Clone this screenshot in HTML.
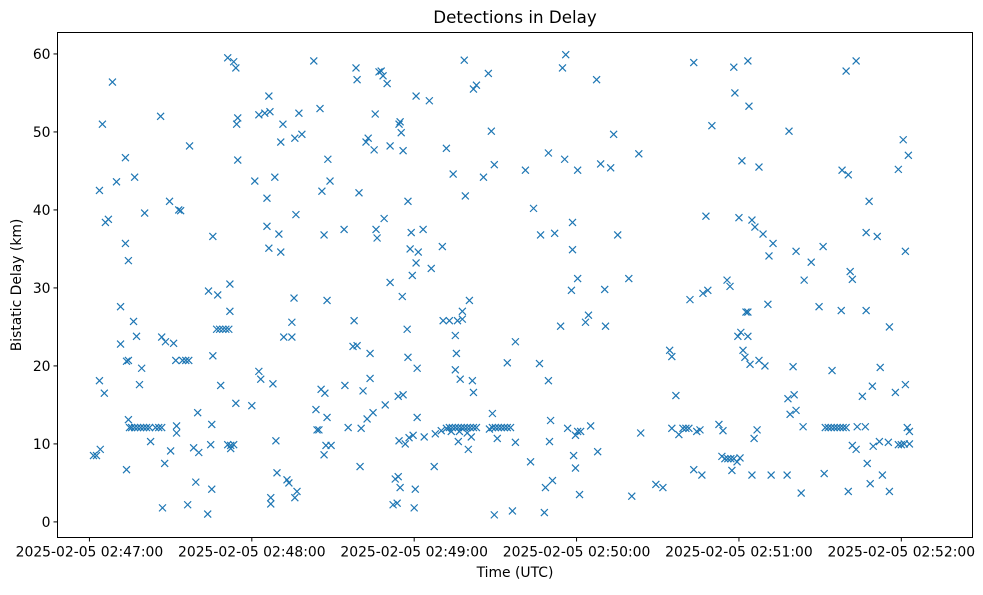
<!DOCTYPE html>
<html><head><meta charset="utf-8"><style>
body{margin:0;background:#fff;font-family:"Liberation Sans","DejaVu Sans",sans-serif;}
svg text{font-family:"DejaVu Sans","Liberation Sans",sans-serif;}
</style></head><body>
<svg id="chart" width="983" height="590" xmlns="http://www.w3.org/2000/svg">
<rect width="983" height="590" fill="#fff"/>
<text x="515" y="23" text-anchor="middle" font-size="16.7">Detections in Delay</text>
<g id="marks"></g>
<g id="xaxis"></g>
<g id="yaxis"></g>
<rect x="57.5" y="32.5" width="915" height="505" fill="none" stroke="#000" stroke-width="1"/>
<text x="515" y="577" text-anchor="middle" font-size="13.9">Time (UTC)</text>
<text transform="translate(21,285) rotate(-90)" text-anchor="middle" font-size="13.9">Bistatic Delay (km)</text>
</svg>
<script>
const xTickSeconds=[0,60,120,180,240,300];
const xTickLabels=["2025-02-05 02:47:00","2025-02-05 02:48:00","2025-02-05 02:49:00","2025-02-05 02:50:00","2025-02-05 02:51:00","2025-02-05 02:52:00"];
const yTicks=[0,10,20,30,40,50,60];
const times=[1.5,2.6,3.7,4,3.7,4.8,5.5,5.9,7,8.5,10,11.5,11.5,13.3,13.3,14.4,13.7,14.4,13.7,14.4,
14.8,15.6,16.7,17.8,18.9,20,21.1,22.2,16.7,16.3,17.4,18.5,19.3,20.4,22.6,24.4,25.6,26.7,26.7,26.3,27,27.8,28.1,29.6,30,31.1,31.9,32.2,32.2,33,33.7,34.4,35.6,36.7,36.3,37,38.5,40,40.4,39.3,43.7,44,44.8,45.2,45.2,45.6,45.6,47.4,47,48.1,49.3,50.4,51.5,48.5,51.1,51.9,51.1,52.2,53.3,52.2,51.9,53.3,54.1,54.4,54.8,54.8,54.1,
60,61.1,62.6,62.6,63.3,64.8,65.6,65.6,66.3,67,67,66.3,66.7,67.8,68.5,68.9,69.3,70,70.7,70.7,71.5,71.8,73,73.7,74.8,74.8,75.6,75.9,76.7,76.3,75.9,77.4,78.5,
82.9,83.7,84.1,84.8,85.2,85.6,85.9,86.7,87,87.8,86.7,87.4,87.8,88.1,88.9,89.3,94.4,94.1,95.6,97.4,97.8,98.5,98.9,99.6,98.9,100,100.4,101.1,102.2,103,103.7,102.6,103.7,104.8,105.2,105.6,105.9,106.3,107,107.8,108.5,108.9,109.3,110,111.1,111.1,112.2,113,113.7,114.1,114.4,114.8,115.2,114.4,114.1,114.8,115.6,115.9,115.9,116.7,117.4,117.7,117.7,118.1,118.5,118.9,119.3,119.6,120,120.4,120.7,120.7,121.1,121.1,121.5,123.3,123.7,125.6,126.3,127.8,127.4,
130,130.4,130.7,131.9,131.9,133,134.1,135.2,136.3,137.4,138.5,139.6,140.7,141.9,143,133.7,136.7,133,134.4,135.2,135.6,135.2,136,136.3,137,137.8,137.8,138.5,138.9,140,139.6,140.4,141.5,141.9,141.1,141.9,143,145.6,147.4,148.5,148.9,149.6,147.8,148.9,150,151.1,152.2,153.3,154.4,155.6,149.6,150.7,154.4,156.3,157.4,157.4,161.1,163,164.1,166.3,166.7,168.1,168.5,169.6,169.6,170,170.4,171.1,171.9,174.1,174.8,175.6,176,176.7,178.1,178.5,178.9,178.5,179.6,179.6,180.4,180.4,180.4,181.5,181.1,183.3,184.4,185.2,187.4,187.8,188.9,190.4,190.7,192.6,193.7,195.2,199.3,200.4,203.7,203,209.3,211.9,
214.4,215.2,216.7,215.2,217.8,219.3,220.4,221.5,223.3,223.3,221.9,224.4,225.6,226.3,226.7,227.8,228.5,230,232.6,234.1,233.7,234.8,235.9,237,238.1,235.6,236.7,237.4,238.1,238.5,239.3,239.6,240,240.4,240.7,241.1,241.5,242.2,242.6,243.3,243.3,243.7,243.3,244.1,244.8,245.6,244.8,245.9,246.7,247.4,247.4,248.9,249.6,251.1,250.7,251.9,252.6,
257.8,258.1,258.5,258.9,260,260.4,261.1,261.1,263,263.7,264.1,266.7,269.6,271.1,271.5,271.9,273,274.1,275.2,276.3,277.4,278.5,279.6,274.4,277.8,278.1,279.6,280.4,280.4,281.1,281.9,281.9,283.3,283.3,283.7,285.6,286.7,287,287,287.4,288.1,288.5,289.3,289.6,291.1,291.9,292.2,293,295.6,295.6,295.2,297.8,298.9,298.9,300,300.7,301.1,301.5,301.5,302.2,302.6,303,303];
const delays=[8.5,8.5,18.1,9.3,42.5,51,16.5,38.4,38.8,56.4,43.6,27.6,22.8,46.7,35.7,33.5,20.6,20.7,6.7,13.1,
12.1,12.1,12.1,12.1,12.1,12.1,12.1,12.1,44.2,25.7,23.8,17.6,19.7,39.6,10.3,12.1,12.1,12.1,23.7,52,1.8,7.5,23.1,41.1,9.1,22.9,20.7,12.3,11.4,40,39.9,20.7,20.7,20.7,2.2,48.2,9.5,14,8.9,5.1,1,29.6,9.9,4.2,12.5,21.3,36.6,29.1,24.7,24.7,24.7,24.7,24.7,17.5,59.5,30.5,9.9,9.8,9.9,9.4,27,59,58.2,51,51.8,46.4,15.2,
14.9,43.7,52.2,19.3,18.3,52.4,41.5,37.9,35.1,2.3,3.1,54.6,52.6,17.7,44.2,10.4,6.3,36.9,34.6,48.7,51,23.7,5.4,5,23.7,25.6,28.7,3.1,3.9,39.4,49.2,52.4,49.7,
59.1,14.4,11.8,11.8,53,17,42.4,36.8,16.5,13.4,8.6,9.8,28.4,46.5,43.7,9.8,17.5,37.5,12.1,22.5,25.8,58.2,56.7,42.2,22.6,7.1,12,16.8,48.7,49.2,21.6,13.2,18.4,14,47.7,52.3,37.5,36.4,57.7,57.8,57.2,38.9,15,56.2,30.7,48.2,2.2,5.5,2.4,16.1,51,51.3,49.9,10.4,5.8,4.4,28.9,47.6,16.3,10,24.7,21.1,41.1,10.8,35,37.1,31.6,11.1,1.8,4.2,33.2,54.6,13.4,19.7,34.6,37.5,10.9,54,32.5,11.3,7.1,
11.7,35.3,25.8,47.9,12,12.1,12.1,12.1,12.1,12.1,12.1,12.1,12.1,12.1,12.1,11.6,11.6,25.8,44.6,23.9,21.6,19.5,25.8,10.3,18.3,26,27,59.2,41.8,9.3,11.4,28.4,18.1,16.6,10.9,55.5,56,44.2,57.5,50.1,13.9,45.8,11.9,12.1,12.1,12.1,12.1,12.1,12.1,12.1,0.9,10.7,20.4,1.4,10.2,23.1,45.1,7.7,40.2,20.3,36.8,1.2,4.4,18.1,47.3,10.3,13,5.3,37,25.1,58.2,46.5,59.9,12,29.7,34.9,8.5,38.4,11.1,6.9,45.1,31.2,11.6,11.6,3.5,25.6,26.5,12.3,56.7,9,45.9,29.8,25.1,45.4,49.7,36.8,31.2,3.3,11.4,47.2,4.8,4.4,
22,21.2,16.2,12,11.2,12,12,12,6.7,58.9,28.5,11.6,11.8,6,29.3,39.2,29.7,50.8,12.5,11.7,8.4,8.1,8.1,8.1,8.1,31,30.2,6.6,58.3,55,7.7,23.8,39,8.2,24.3,46.3,22,21.1,26.9,26.9,59.1,53.3,23.8,20.2,38.7,10.7,6,37.8,11.8,45.5,20.7,36.9,20,34.1,27.9,6,35.7,
6,15.8,50.1,13.8,19.9,16.3,14.3,34.7,3.7,12.2,31,33.3,27.6,35.3,6.2,12.1,12.1,12.1,12.1,12.1,12.1,12.1,12.1,19.4,27.1,45.1,57.8,44.5,3.9,32.1,31.1,9.8,59.1,9.3,12.2,16.1,12.2,37.1,27.1,7.5,41.1,4.9,17.4,9.7,36.6,10.3,19.8,6,3.9,25,10.2,16.6,45.2,9.9,9.9,49,10,34.7,17.6,12.1,47,11.6,10];
const NS="http://www.w3.org/2000/svg";
const X0=57.5,X1=972.5,Y0=32.5,Y1=537.5;
const tMin=-11.8,tMax=326.3,dMin=-2.0,dMax=62.75;
function xScale(t){return X0+(t-tMin)/(tMax-tMin)*(X1-X0);}
function yScale(d){return Y1-(d-dMin)/(dMax-dMin)*(Y1-Y0);}
function mk(tag,attrs,parent){const e=document.createElementNS(NS,tag);for(const k in attrs)e.setAttribute(k,attrs[k]);parent.appendChild(e);return e;}
const xg=document.getElementById('xaxis');
xTickSeconds.forEach((s,i)=>{
  const x=xScale(s);
  const tk=mk('line',{x1:x,x2:x,y1:Y1,y2:Y1+4,stroke:'#000','stroke-width':1},xg);
  
  
  const tx=mk('text',{x:x,y:Y1+19,'text-anchor':'middle','font-size':13.9},xg);
  
  
  tx.textContent=xTickLabels[i];
});
const yg=document.getElementById('yaxis');
yTicks.forEach(v=>{
  const y=yScale(v);
  const tk=mk('line',{x1:X0-4,x2:X0,y1:y,y2:y,stroke:'#000','stroke-width':1},yg);
  
  
  const tx=mk('text',{x:X0-7,y:y+5,'text-anchor':'end','font-size':13.9},yg);
  
  
  tx.textContent=String(v);
});
const mg=document.getElementById('marks');
const r=3.5;
for(let i=0;i<times.length;i++){
  const x=xScale(times[i]),y=yScale(delays[i]);
  const p=mk('path',{d:`M${x-r},${y-r}L${x+r},${y+r}M${x-r},${y+r}L${x+r},${y-r}`,stroke:'#1f77b4','stroke-width':1.2,fill:'none'},mg);
  
  
}
</script>
</body></html>
